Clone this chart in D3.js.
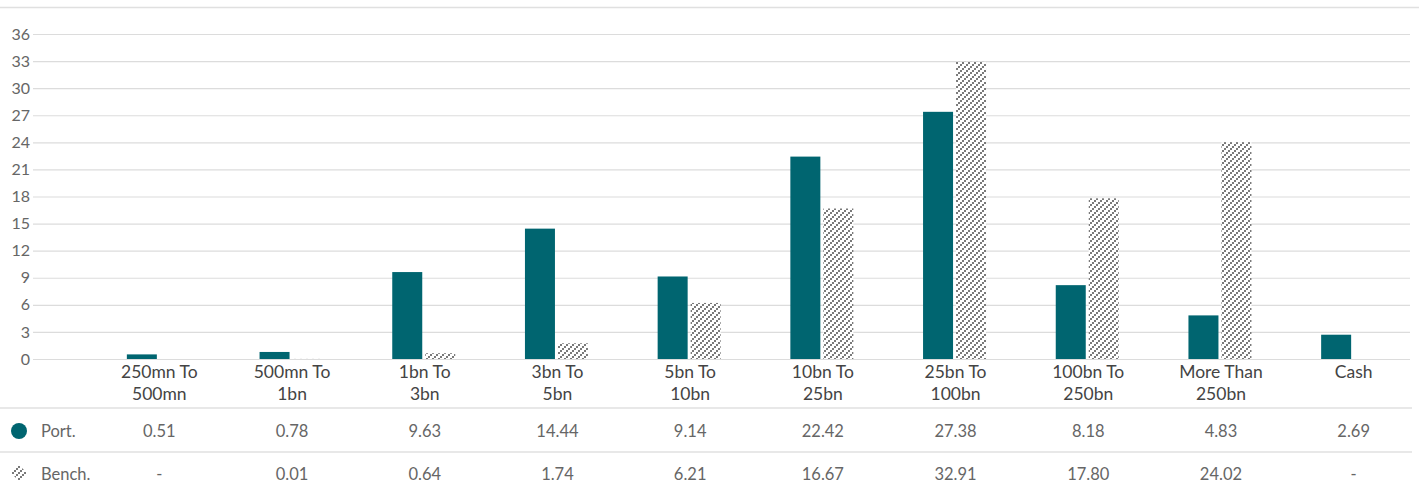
<!DOCTYPE html>
<html><head><meta charset="utf-8">
<script src="https://cdn.jsdelivr.net/npm/d3@7"></script>
<style>body{margin:0;background:#fff;} text{font-family:"Source Sans Pro",Lato,"Noto Sans",sans-serif;}</style>
</head><body>
<svg id="c" width="1419" height="493"></svg>
<script>
const categories = [["250mn To","500mn"],["500mn To","1bn"],["1bn To","3bn"],["3bn To","5bn"],["5bn To","10bn"],["10bn To","25bn"],["25bn To","100bn"],["100bn To","250bn"],["More Than","250bn"],["Cash"]];
const portValues = [0.51,0.78,9.63,14.44,9.14,22.42,27.38,8.18,4.83,2.69];
const benchValues = [null,0.01,0.64,1.74,6.21,16.67,32.91,17.80,24.02,null];
const portLabels = ["0.51","0.78","9.63","14.44","9.14","22.42","27.38","8.18","4.83","2.69"];
const benchLabels = ["-","0.01","0.64","1.74","6.21","16.67","32.91","17.80","24.02","-"];
const yTicks = [0,3,6,9,12,15,18,21,24,27,30,33,36];
const seriesNames = ["Port.","Bench."];

const svg = d3.select("#c");
const teal = "#006570";
const defs = svg.append("defs");
function makePattern(id, bg){
  const p = defs.append("pattern").attr("id",id).attr("patternUnits","userSpaceOnUse").attr("width",6).attr("height",6);
  if(bg) p.append("rect").attr("width",6).attr("height",6).attr("fill","#fff");
  [[0,4],[2,2],[4,0]].forEach(([a,b])=>p.append("rect").attr("x",a).attr("y",b).attr("width",2).attr("height",2).attr("fill","#7a7a7a"));
}
makePattern("hatch", true);
makePattern("hatch2", false);

const x = d3.scaleBand().domain(d3.range(categories.length)).range([94,1421]).paddingInner(0).paddingOuter(0);
const y = d3.scaleLinear().domain([0,36]).range([359,34]);
const barW = 30, gap = 3;

svg.append("line").attr("x1",0).attr("x2",1419).attr("y1",7.5).attr("y2",7.5).attr("stroke","#e0e0e0").attr("stroke-width",1.5);

const yAxis = d3.axisLeft(y).tickValues(yTicks).tickSize(-(1410-33)).tickPadding(3).tickFormat(d3.format("d"));
const ga = svg.append("g").attr("transform","translate(33,0)").call(yAxis);
ga.select(".domain").remove();
ga.selectAll(".tick line").attr("stroke","#dcdcdc").attr("stroke-width",1.2);
ga.selectAll(".tick text").attr("fill","#666").attr("font-size",16).attr("x",-3);

const cx = i => x(i) + x.bandwidth()/2 - 2;

svg.append("g").selectAll("rect").data(portValues).join("rect")
  .attr("x",(d,i)=>cx(i)-barW-gap/2).attr("width",barW)
  .attr("y",d=>y(d)).attr("height",d=>y(0)-y(d)).attr("fill",teal);
svg.append("g").selectAll("rect").data(benchValues.map((v,i)=>({v,i})).filter(d=>d.v!==null)).join("rect")
  .attr("x",d=>cx(d.i)+gap/2).attr("width",barW)
  .attr("y",d=>y(d.v)).attr("height",d=>y(0)-y(d.v)).attr("fill","url(#hatch)");

const cl = svg.append("g").selectAll("text").data(categories).join("text")
  .attr("text-anchor","middle").attr("fill","#444").attr("font-size",17.5);
cl.each(function(d,i){
  const t = d3.select(this);
  d.forEach((line,k)=>t.append("tspan").attr("x",cx(i)+1).attr("y",378+k*22).text(line));
});

[408,452].forEach(yy=>svg.append("line").attr("x1",0).attr("x2",1412).attr("y1",yy).attr("y2",yy).attr("stroke","#e0e0e0").attr("stroke-width",1.5));

svg.append("circle").attr("cx",19).attr("cy",431).attr("r",8).attr("fill",teal);
svg.append("path").attr("d","M19,465 L27,473 L19,481 L11,473 Z").attr("fill","url(#hatch2)");
svg.append("text").attr("x",41).attr("y",437).attr("fill","#666").attr("font-size",16.5).text(seriesNames[0]);
svg.append("text").attr("x",41).attr("y",480).attr("fill","#666").attr("font-size",16.5).text(seriesNames[1]);

svg.append("g").selectAll("text").data(portLabels).join("text")
  .attr("x",(d,i)=>cx(i)+1).attr("y",437).attr("text-anchor","middle").attr("fill","#666").attr("font-size",16.5).text(d=>d);
svg.append("g").selectAll("text").data(benchLabels).join("text")
  .attr("x",(d,i)=>cx(i)+1).attr("y",480).attr("text-anchor","middle").attr("fill","#666").attr("font-size",16.5).text(d=>d);
</script>
</body></html>
